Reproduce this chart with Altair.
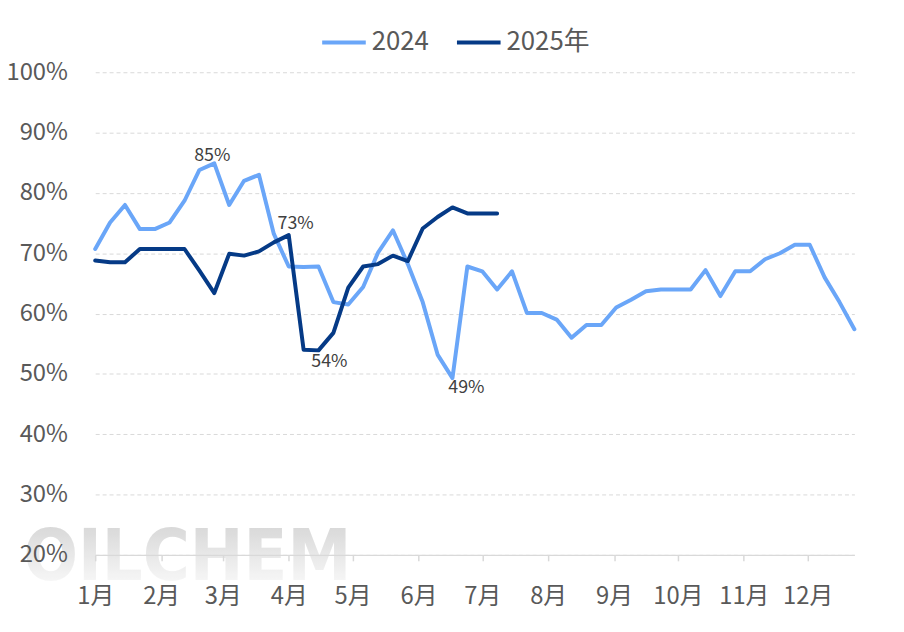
import altair as alt
import pandas as pd

# ---- data (weekly operating rate, %) ----
series_names = ["2024", "2025年"]
series_colors = ["#6AA6F8", "#053A86"]

vals_2024 = [70.7, 75.1, 78.0, 74.0, 74.0, 75.1, 78.7, 83.8, 84.9, 78.0,
             82.0, 83.0, 73.2, 67.8, 67.7, 67.8, 61.9, 61.5, 64.4, 70.1,
             73.8, 68.2, 61.9, 53.2, 49.3, 67.8, 67.0, 64.0, 67.0, 60.1,
             60.1, 59.0, 56.0, 58.1, 58.1, 61.0, 62.3, 63.7, 64.0, 64.0,
             64.0, 67.2, 62.9, 67.0, 67.0, 69.0, 70.0, 71.4, 71.4, 66.0,
             61.9, 57.4]
vals_2025 = [68.8, 68.5, 68.5, 70.7, 70.7, 70.7, 70.7, 67.1, 63.4, 69.9,
             69.6, 70.3, 71.8, 73.0, 54.0, 53.9, 56.8, 64.3, 67.8, 68.2,
             69.6, 68.7, 74.1, 76.0, 77.6, 76.6, 76.6, 76.6]

month_labels = ["1月", "2月", "3月", "4月", "5月", "6月",
                "7月", "8月", "9月", "10月", "11月", "12月"]
y_ticks = [20, 30, 40, 50, 60, 70, 80, 90, 100]

# labelled points: (series, week index)
label_points = [("2024", 8), ("2025年", 13), ("2025年", 15), ("2024", 24)]

start = pd.Timestamp("2024-01-01")
rows = []
for name, vals in zip(series_names, [vals_2024, vals_2025]):
    for i, v in enumerate(vals):
        rows.append({"series": name, "idx": i,
                     "date": start + pd.Timedelta(days=7 * i), "value": v})
df = pd.DataFrame(rows)
end = start + pd.Timedelta(days=7 * (len(vals_2024) - 1))

FONT = "Noto Sans CJK SC"
GRAY = "#595959"

x_scale = alt.Scale(domain=[alt.DateTime(year=2024, month=1, date=1),
                            alt.DateTime(year=end.year, month=end.month, date=end.day)],
                    nice=False)
y_scale = alt.Scale(domain=[20, 100], nice=False, zero=False)

x_enc = alt.X("date:T", scale=x_scale,
              axis=alt.Axis(title=None, format="%-m月", formatType="time",
                            tickCount=alt.TimeIntervalStep(interval="month", step=1),
                            grid=False, domainColor="#D9D9D9", domainWidth=1.5,
                            tickColor="#D9D9D9", tickSize=6, tickWidth=1.5,
                            labelFont=FONT, labelFontSize=24, labelColor=GRAY,
                            labelPadding=24, labelFlush=False, zindex=1))
grid_axis = alt.Axis(title=None, values=y_ticks, orient="left",
                     domain=False, ticks=False, labels=False, grid=True,
                     gridColor="#D9D9D9", gridDash=[4, 3], gridWidth=1, zindex=0)
label_axis = alt.Axis(title=None, values=y_ticks, orient="left",
                      labelExpr="datum.value + '%'",
                      domain=False, ticks=False, grid=False,
                      labelFont=FONT, labelFontSize=24, labelColor=GRAY,
                      labelPadding=28, zindex=1)

# watermark
wm = alt.Chart(pd.DataFrame({"t": ["OILCHEM"]})).mark_text(
    font="DejaVu Sans Condensed, DejaVu Sans, sans-serif", fontWeight="bold", fontSize=72,
    align="center", baseline="alphabetic", opacity=0.85,
    color=alt.Gradient(gradient="linear",
                       stops=[alt.GradientStop(color="#CACACA", offset=0),
                              alt.GradientStop(color="#FFFFFF", offset=1)],
                       x1=0, y1=0, x2=0, y2=1)
).encode(x=alt.value(93), y=alt.value(512), text="t:N")

lines = alt.Chart(df).mark_line(strokeWidth=4, strokeJoin="round", strokeCap="round").encode(
    x=x_enc, y=alt.Y("value:Q", scale=y_scale, axis=grid_axis),
    color=alt.Color("series:N",
                    scale=alt.Scale(domain=series_names, range=series_colors),
                    legend=alt.Legend(title=None, orient="none", direction="horizontal",
                                      legendX=227, legendY=-54,
                                      symbolType="stroke", symbolStrokeWidth=4,
                                      symbolSize=1936, columnPadding=20,
                                      labelFont=FONT, labelFontSize=26,
                                      labelColor=GRAY, labelOffset=4)),
    detail="series:N",
)

offsets = [(-2, -7), (7, -11), (11, 12), (14, 10)]
label_layers = []
for (s, i), (dx, dy) in zip(label_points, offsets):
    label_layers.append(
        alt.Chart(df).transform_filter(
            (alt.datum.series == s) & (alt.datum.idx == i)
        ).transform_calculate(
            lab="format(datum.value, '.0f') + '%'"
        ).mark_text(font=FONT, fontSize=18, color="#404040", dx=dx, dy=dy,
                    align="center", baseline="middle").encode(
            x="date:T", y=alt.Y("value:Q", scale=y_scale, axis=label_axis), text="lab:N")
    )

labels = alt.layer(*label_layers)

chart = alt.layer(wm, lines, labels).resolve_axis(y="independent").properties(
    width=766, height=487,
    autosize=alt.AutoSizeParams(type="none"),
    padding={"left": 88, "top": 62, "right": 42, "bottom": 75},
    background="white",
).configure_view(stroke=None)

chart.save("out.html", embed_options={"renderer": "svg", "actions": False})
